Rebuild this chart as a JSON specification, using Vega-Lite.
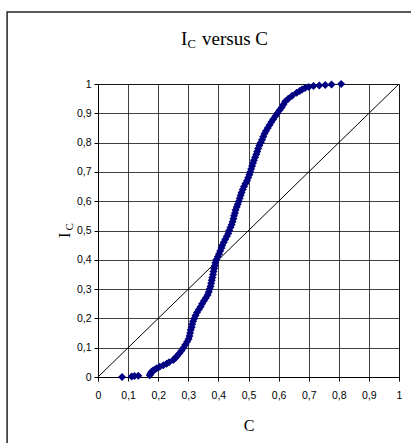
{
  "$schema": "https://vega.github.io/schema/vega-lite/v6.json",
  "width": 301,
  "height": 293,
  "autosize": {"type": "none"},
  "padding": {"left": 98, "top": 84, "right": 12, "bottom": 66},
  "background": "white",
  "config": {
    "view": {"stroke": "#555", "strokeWidth": 1},
    "axis": {
      "labelFont": "Liberation Sans",
      "labelFontSize": 10.5,
      "labelColor": "#000",
      "tickColor": "#000",
      "tickSize": 4,
      "domainColor": "#000",
      "grid": true,
      "gridColor": "#000",
      "gridOpacity": 0.75,
      "labelOverlap": false,
      "labelBound": false,
      "labelFlush": false,
      "titleColor": "#000",
      "tickCount": 20
    }
  },
  "datasets": {
    "pts": [
      {"I":0.000,"C":0.080},{"I":0.002,"C":0.112},{"I":0.003,"C":0.121},{"I":0.004,"C":0.134},
      {"I":0.006,"C":0.172},{"I":0.010,"C":0.174},{"I":0.014,"C":0.176},{"I":0.018,"C":0.178},
      {"I":0.022,"C":0.183},{"I":0.026,"C":0.189},{"I":0.030,"C":0.195},{"I":0.035,"C":0.205},
      {"I":0.040,"C":0.217},{"I":0.045,"C":0.228},{"I":0.050,"C":0.236},{"I":0.058,"C":0.250},
      {"I":0.065,"C":0.257},{"I":0.070,"C":0.261},{"I":0.080,"C":0.270},{"I":0.090,"C":0.277},
      {"I":0.100,"C":0.284},{"I":0.110,"C":0.290},{"I":0.120,"C":0.296},{"I":0.130,"C":0.301},
      {"I":0.140,"C":0.304},{"I":0.150,"C":0.306},{"I":0.160,"C":0.308},{"I":0.170,"C":0.311},
      {"I":0.180,"C":0.313},{"I":0.190,"C":0.316},{"I":0.200,"C":0.320},{"I":0.210,"C":0.324},
      {"I":0.220,"C":0.329},{"I":0.230,"C":0.335},{"I":0.240,"C":0.341},{"I":0.250,"C":0.346},
      {"I":0.260,"C":0.352},{"I":0.270,"C":0.358},{"I":0.280,"C":0.364},{"I":0.290,"C":0.368},
      {"I":0.300,"C":0.371},{"I":0.310,"C":0.374},{"I":0.320,"C":0.376},{"I":0.330,"C":0.378},
      {"I":0.340,"C":0.380},{"I":0.350,"C":0.382},{"I":0.360,"C":0.384},{"I":0.370,"C":0.386},
      {"I":0.380,"C":0.388},{"I":0.390,"C":0.390},{"I":0.400,"C":0.393},{"I":0.410,"C":0.398},
      {"I":0.420,"C":0.402},{"I":0.430,"C":0.406},{"I":0.440,"C":0.410},{"I":0.450,"C":0.413},
      {"I":0.460,"C":0.418},{"I":0.470,"C":0.423},{"I":0.480,"C":0.428},{"I":0.490,"C":0.433},
      {"I":0.500,"C":0.436},{"I":0.510,"C":0.440},{"I":0.520,"C":0.444},{"I":0.530,"C":0.447},
      {"I":0.540,"C":0.450},{"I":0.550,"C":0.452},{"I":0.560,"C":0.455},{"I":0.570,"C":0.457},
      {"I":0.580,"C":0.461},{"I":0.590,"C":0.464},{"I":0.600,"C":0.468},{"I":0.610,"C":0.471},
      {"I":0.620,"C":0.474},{"I":0.630,"C":0.477},{"I":0.640,"C":0.481},{"I":0.650,"C":0.485},
      {"I":0.660,"C":0.490},{"I":0.670,"C":0.495},{"I":0.680,"C":0.499},{"I":0.690,"C":0.503},
      {"I":0.700,"C":0.506},{"I":0.710,"C":0.509},{"I":0.720,"C":0.512},{"I":0.730,"C":0.515},
      {"I":0.740,"C":0.518},{"I":0.750,"C":0.522},{"I":0.760,"C":0.526},{"I":0.770,"C":0.529},
      {"I":0.780,"C":0.532},{"I":0.790,"C":0.536},{"I":0.800,"C":0.541},{"I":0.810,"C":0.545},
      {"I":0.820,"C":0.549},{"I":0.830,"C":0.553},{"I":0.840,"C":0.558},{"I":0.850,"C":0.564},
      {"I":0.860,"C":0.570},{"I":0.870,"C":0.576},{"I":0.880,"C":0.582},{"I":0.890,"C":0.589},
      {"I":0.900,"C":0.596},{"I":0.910,"C":0.603},{"I":0.920,"C":0.610},{"I":0.930,"C":0.616},
      {"I":0.940,"C":0.622},{"I":0.950,"C":0.632},{"I":0.960,"C":0.645},{"I":0.970,"C":0.660},
      {"I":0.976,"C":0.670},{"I":0.981,"C":0.678},{"I":0.986,"C":0.688},{"I":0.990,"C":0.700},
      {"I":0.993,"C":0.716},{"I":0.995,"C":0.735},{"I":0.997,"C":0.755},{"I":0.998,"C":0.776},
      {"I":1.000,"C":0.808}
    ],
    "diag": [{"C":0,"I":0},{"C":1,"I":1}]
  },
  "layer": [
    {
      "data": {"values": [{}]},
      "mark": {"type": "rect", "fillOpacity": 0, "stroke": "#222", "strokeWidth": 1.5},
      "encoding": {
        "x": {"datum": -0.302, "type": "quantitative",
          "axis": {"values": [0, 0.1, 0.2, 0.3, 0.4, 0.5, 0.6, 0.7, 0.8, 0.9, 1], "tickCount": 20, "labelExpr": "replace(format(datum.value, '.1~f'), '.', ',')", "labelPadding": 9, "title": "C", "titleFont": "Liberation Serif", "titleFontSize": 16, "titleFontWeight": "normal", "titlePadding": 17}},
        "x2": {"datum": 1.05},
        "y": {"datum": 1.246, "type": "quantitative",
          "axis": {"values": [0, 0.1, 0.2, 0.3, 0.4, 0.5, 0.6, 0.7, 0.8, 0.9, 1], "tickCount": 20, "labelExpr": "replace(format(datum.value, '.1~f'), '.', ',')", "labelPadding": 3, "title": null}},
        "y2": {"datum": -0.3}
      }
    },
    {
      "data": {"name": "diag"},
      "mark": {"type": "line", "color": "#000", "strokeWidth": 1},
      "encoding": {
        "x": {"field": "C", "type": "quantitative",
          "axis": {"values": [0, 0.1, 0.2, 0.3, 0.4, 0.5, 0.6, 0.7, 0.8, 0.9, 1], "tickCount": 20, "labelExpr": "replace(format(datum.value, '.1~f'), '.', ',')", "labelPadding": 9, "title": "C", "titleFont": "Liberation Serif", "titleFontSize": 16, "titleFontWeight": "normal", "titlePadding": 17}},
        "y": {"field": "I", "type": "quantitative",
          "axis": {"values": [0, 0.1, 0.2, 0.3, 0.4, 0.5, 0.6, 0.7, 0.8, 0.9, 1], "tickCount": 20, "labelExpr": "replace(format(datum.value, '.1~f'), '.', ',')", "labelPadding": 3, "title": null}}
      }
    },
    {
      "data": {"name": "pts"},
      "mark": {"type": "point", "shape": "diamond", "filled": true, "size": 64, "color": "#000080", "opacity": 1},
      "encoding": {
        "x": {
          "field": "C", "type": "quantitative",
          "scale": {"domain": [0, 1], "nice": false, "zero": true},
          "axis": {"values": [0, 0.1, 0.2, 0.3, 0.4, 0.5, 0.6, 0.7, 0.8, 0.9, 1], "tickCount": 20, "labelExpr": "replace(format(datum.value, '.1~f'), '.', ',')", "labelPadding": 9, "title": "C", "titleFont": "Liberation Serif", "titleFontSize": 16, "titleFontWeight": "normal", "titlePadding": 17}
        },
        "y": {
          "field": "I", "type": "quantitative",
          "scale": {"domain": [0, 1], "nice": false, "zero": true},
          "axis": {"values": [0, 0.1, 0.2, 0.3, 0.4, 0.5, 0.6, 0.7, 0.8, 0.9, 1], "tickCount": 20, "labelExpr": "replace(format(datum.value, '.1~f'), '.', ',')", "labelPadding": 3, "title": null}
        }
      }
    },
    {
      "data": {"values": [{"t": "I", "x": 0.276, "y": 1.133, "s": 19}, {"t": "C", "x": 0.297, "y": 1.123, "s": 12.5}, {"t": "versus C", "x": 0.3455, "y": 1.133, "s": 19}]},
      "mark": {"type": "text", "font": "Liberation Serif", "align": "left", "baseline": "alphabetic", "color": "#000"},
      "encoding": {
        "x": {"field": "x", "type": "quantitative",
          "axis": {"values": [0, 0.1, 0.2, 0.3, 0.4, 0.5, 0.6, 0.7, 0.8, 0.9, 1], "tickCount": 20, "labelExpr": "replace(format(datum.value, '.1~f'), '.', ',')", "labelPadding": 9, "title": "C", "titleFont": "Liberation Serif", "titleFontSize": 16, "titleFontWeight": "normal", "titlePadding": 17}},
        "y": {"field": "y", "type": "quantitative",
          "axis": {"values": [0, 0.1, 0.2, 0.3, 0.4, 0.5, 0.6, 0.7, 0.8, 0.9, 1], "tickCount": 20, "labelExpr": "replace(format(datum.value, '.1~f'), '.', ',')", "labelPadding": 3, "title": null}},
        "text": {"field": "t"},
        "size": {"field": "s", "type": "quantitative", "scale": null}
      }
    },
    {
      "data": {"values": [{"t": "I", "x": -0.093, "y": 0.474, "s": 16}, {"t": "C", "x": -0.083, "y": 0.500, "s": 11}]},
      "mark": {"type": "text", "font": "Liberation Serif", "align": "left", "baseline": "alphabetic", "angle": 270, "color": "#000"},
      "encoding": {
        "x": {"field": "x", "type": "quantitative",
          "axis": {"values": [0, 0.1, 0.2, 0.3, 0.4, 0.5, 0.6, 0.7, 0.8, 0.9, 1], "tickCount": 20, "labelExpr": "replace(format(datum.value, '.1~f'), '.', ',')", "labelPadding": 9, "title": "C", "titleFont": "Liberation Serif", "titleFontSize": 16, "titleFontWeight": "normal", "titlePadding": 17}},
        "y": {"field": "y", "type": "quantitative",
          "axis": {"values": [0, 0.1, 0.2, 0.3, 0.4, 0.5, 0.6, 0.7, 0.8, 0.9, 1], "tickCount": 20, "labelExpr": "replace(format(datum.value, '.1~f'), '.', ',')", "labelPadding": 3, "title": null}},
        "text": {"field": "t"},
        "size": {"field": "s", "type": "quantitative", "scale": null}
      }
    }
  ]
}
